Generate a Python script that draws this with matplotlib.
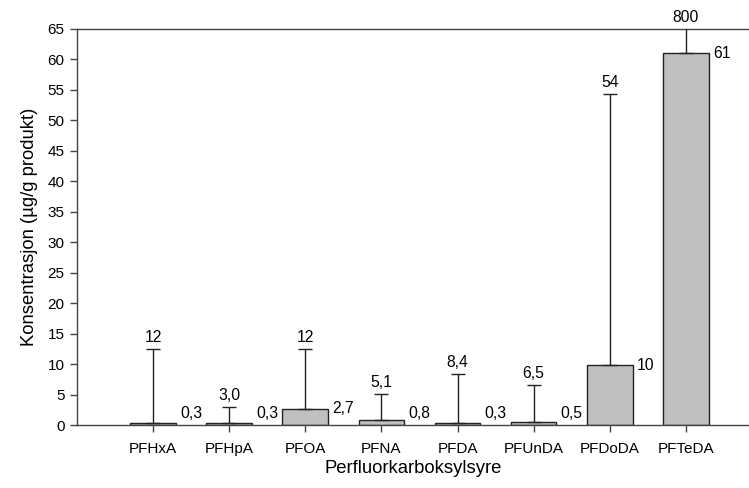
import numpy as np
import matplotlib.pyplot as plt

plt.rcParams['font.family'] = ['Liberation Sans', 'DejaVu Sans']

categories = ['PFHxA', 'PFHpA', 'PFOA', 'PFNA', 'PFDA', 'PFUnDA', 'PFDoDA', 'PFTeDA']
means = [0.3, 0.3, 2.7, 0.8, 0.3, 0.5, 9.8, 61.0]
maxima = [12.4, 3.0, 12.5, 5.1, 8.4, 6.5, 54.3, 800.0]
mean_labels = ['0,3', '0,3', '2,7', '0,8', '0,3', '0,5', '10', '61']
max_labels = ['12', '3,0', '12', '5,1', '8,4', '6,5', '54', '800']

fig = plt.figure(figsize=(7.49, 4.88), dpi=100)
ax = fig.add_axes([0.1028, 0.129, 0.8972, 0.8116])

x = np.arange(1, len(categories) + 1)
w = 0.6
err_up = np.array(maxima) - np.array(means)
ax.bar(x, means, width=w, color='#c0c0c0', edgecolor='#222222', linewidth=1.0, zorder=2)
ax.errorbar(x, means, yerr=[np.zeros(len(x)), err_up], fmt='none', ecolor='#222222',
            elinewidth=1.0, capsize=4.7, capthick=1.0, zorder=3)

for xi, m, mx, ml, xl in zip(x, means, maxima, mean_labels, max_labels):
    ax.annotate(ml, (xi + w / 2, max(m, 1.9)), xytext=(3, 0), textcoords='offset points',
                ha='left', va='center', fontsize=11.3)
    ytop = min(mx, 65)
    ax.annotate(xl, (xi, ytop), xytext=(0, 3), textcoords='offset points',
                ha='center', va='bottom', fontsize=11.3, annotation_clip=False)

ax.set_xlim(0.0, 8.83)
ax.set_ylim(0, 65)
ax.set_yticks(np.arange(0, 66, 5))
ax.set_xticks(x)
ax.set_xticklabels(categories)
ax.tick_params(axis='both', labelsize=11, length=5, width=1, color='#444444', direction='out')
ax.tick_params(axis='y', pad=4)
ax.tick_params(axis='x', pad=7)
for s in ['left', 'bottom', 'top']:
    ax.spines[s].set_color('#444444')
    ax.spines[s].set_linewidth(1.0)
ax.spines['right'].set_visible(False)

ax.set_xlabel('Perfluorkarboksylsyre', fontsize=13.3, labelpad=3)
ax.set_ylabel('Konsentrasjon (µg/g produkt)', fontsize=13.3, labelpad=7)

fig.savefig('out.png', dpi=100)
